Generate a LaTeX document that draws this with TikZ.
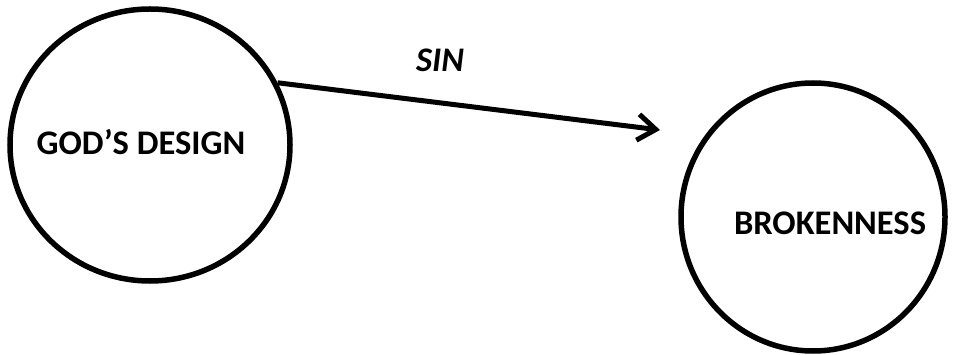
\documentclass[tikz,border=0pt]{standalone}
\usepackage{fontspec}
\setmainfont{Carlito}
\usepackage{tikz}
\usetikzlibrary{arrows.meta, shapes.geometric, positioning, shadows}

\begin{document}
\begin{tikzpicture}[x=1pt, y=-1pt,
      blob/.style={draw, ellipse, line width=5.5pt, fill=white, inner sep=0pt,
                   drop shadow={shadow xshift=1.5pt, shadow yshift=-2pt,
                                opacity=0.25, fill=black}},
      lbl/.style={font=\fontsize{34.5}{40}\selectfont\bfseries},
      arr/.style={-{Straight Barb[length=18pt, width=26pt, line width=5pt]},
                  line width=5pt}
    ]

    %% ---- page ----
    \useasboundingbox (0,0) rectangle (955,355);

    %% ---- circles ----
    \node[blob, minimum width=280pt, minimum height=272pt] at (150,145) (god) {};
    \node[lbl] at (141,142) (godtxt) {GOD’S DESIGN};

    \node[blob, minimum width=264pt, minimum height=268pt] at (813,217) (broken) {};
    \node[lbl] at (830,223) (brokentxt) {BROKENNESS};

    %% ---- edge ----
    \coordinate (tip) at (660,130);
    \draw[arr] (god.26) -- (tip);

    %% SIN label
    \node[lbl, font=\fontsize{34.5}{40}\selectfont\bfseries\itshape] at (440,60) (sin) {SIN};

\end{tikzpicture}
\end{document}
